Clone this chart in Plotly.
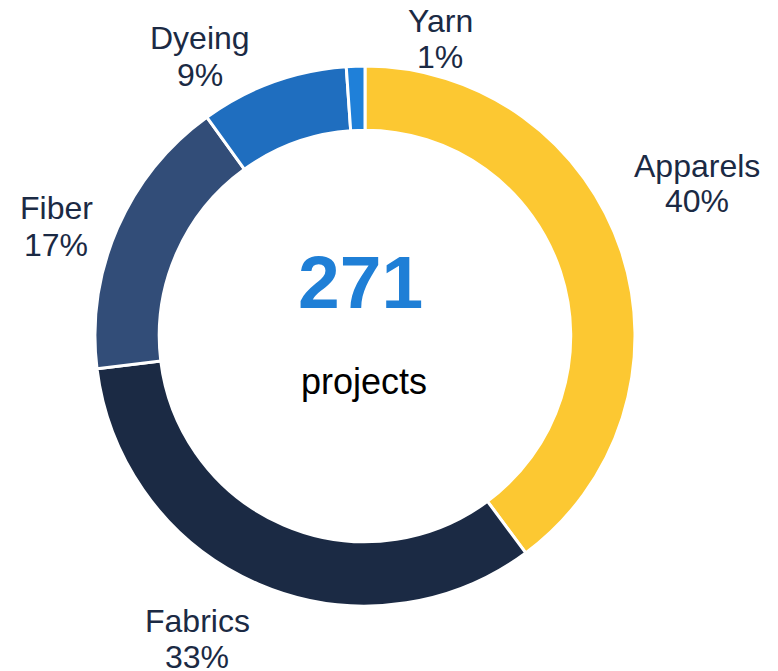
import plotly.graph_objects as go

W, H = 778, 671
OFF = 8  # page body margin offset in the screenshot

categories = ["Apparels", "Fabrics", "Fiber", "Dyeing", "Yarn"]
counts = [108, 90, 46, 24, 3]
pct_labels = ["40%", "33%", "17%", "9%", "1%"]
colors = ["#FCC832", "#1B2A44", "#324D78", "#1F6EBF", "#1F80D9"]
total_label = "271"
total_caption = "projects"

# label positions (page pixels): x centre, y of name line, y of percent line
label_x = [697, 197, 56, 200, 440]
label_name_y = [166, 621, 208, 38, 21]
label_pct_y = [201, 657, 245, 75, 57]

FONT = "Liberation Sans, Arial, sans-serif"


def fx(px):
    return (px - OFF) / W


def fy(py):
    return 1 - (py - OFF) / H


fig = go.Figure()
fig.add_trace(go.Pie(
    labels=categories,
    values=counts,
    hole=0.762,
    sort=False,
    direction="clockwise",
    rotation=0,
    marker=dict(colors=colors, line=dict(color="white", width=3)),
    textinfo="none",
    hoverinfo="label+percent",
    showlegend=False,
    domain=dict(x=[fx(95), fx(635)], y=[fy(606), fy(66)]),
))

for x, yn, yp, cat, pct in zip(label_x, label_name_y, label_pct_y, categories, pct_labels):
    for y, t in ((yn, cat), (yp, pct)):
        fig.add_annotation(
            x=fx(x), y=fy(y), xref="paper", yref="paper",
            text=t, showarrow=False,
            xanchor="center", yanchor="middle",
            font=dict(family=FONT, size=32, color="#1B2A44"),
        )

fig.add_annotation(
    x=fx(360), y=fy(282), xref="paper", yref="paper",
    text=f"<b>{total_label}</b>", showarrow=False,
    xanchor="center", yanchor="middle",
    font=dict(family=FONT, size=75, color="#1F7FD6"),
)
fig.add_annotation(
    x=fx(364), y=fy(382), xref="paper", yref="paper",
    text=total_caption, showarrow=False,
    xanchor="center", yanchor="middle",
    font=dict(family=FONT, size=36, color="#000000"),
)

fig.update_layout(
    width=W, height=H,
    margin=dict(l=0, r=0, t=0, b=0),
    paper_bgcolor="white", plot_bgcolor="white",
)

fig.write_html("out.html")
